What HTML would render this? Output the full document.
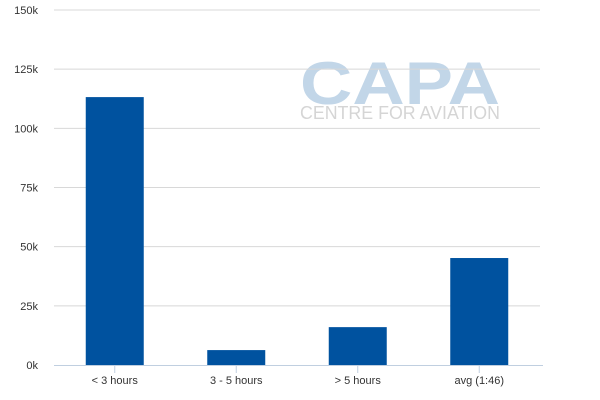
<!DOCTYPE html>
<html><head><meta charset="utf-8"><style>
body{margin:0;background:#fff;}
svg{display:block;font-family:"Liberation Sans","DejaVu Sans",sans-serif;}
</style></head><body>
<svg id="chart" width="600" height="400">
<g>
<text x="300" y="104" font-size="60" font-weight="bold" fill="#c2d6e8" textLength="200" lengthAdjust="spacingAndGlyphs">CAPA</text>
<text x="300" y="119" font-size="18" fill="#d5d5d5" textLength="200" lengthAdjust="spacingAndGlyphs">CENTRE FOR AVIATION</text>
</g>
<g id="grid"></g><g id="bars"></g><g id="axes"></g>
</svg>
<script>
const categories=["< 3 hours","3 - 5 hours","> 5 hours","avg (1:46)"];
const values=[113200,6300,16000,45200];
const yTicks=[0,25000,50000,75000,100000,125000,150000];
const yTickLabels=["0k","25k","50k","75k","100k","125k","150k"];
const NS="http://www.w3.org/2000/svg";
const L=54,R=540,T=10,B=365,yMax=150000;
const y=v=>B-(v/yMax)*(B-T);
const bw=(R-L)/categories.length;
const xc=i=>L+bw*(i+0.5);
function mk(tag,attrs,parent){const e=document.createElementNS(NS,tag);for(const k in attrs)e.setAttribute(k,attrs[k]);parent.appendChild(e);return e;}
const grid=document.getElementById('grid'),bars=document.getElementById('bars'),axes=document.getElementById('axes');
yTicks.forEach((t,i)=>{
  if(t>0){const g=mk('line',{x1:L,x2:R,y1:y(t),y2:y(t),stroke:'#d8d8d8','stroke-width':1},grid);
  
  }
  const tx=mk('text',{x:38,y:y(t)+4,'text-anchor':'end','font-size':11,fill:'#333'},axes);
  tx.textContent=yTickLabels[i];
  
  
});
values.forEach((v,i)=>{
  const r=mk('rect',{x:xc(i)-29,y:y(v),width:58,height:B-y(v),fill:'#00529f'},bars);
  
  
});
const ax=mk('line',{x1:L,x2:R+3,y1:B+0.5,y2:B+0.5,stroke:'#c0cfe0','stroke-width':1},axes);


categories.forEach((c,i)=>{
  const tk=mk('line',{x1:xc(i),x2:xc(i),y1:B,y2:B+8,stroke:'#c0cfe0','stroke-width':1},axes);
  
  
  const tx=mk('text',{x:xc(i),y:384,'text-anchor':'middle','font-size':11,fill:'#333'},axes);
  tx.textContent=c;
  
  
});
</script>
</body></html>
